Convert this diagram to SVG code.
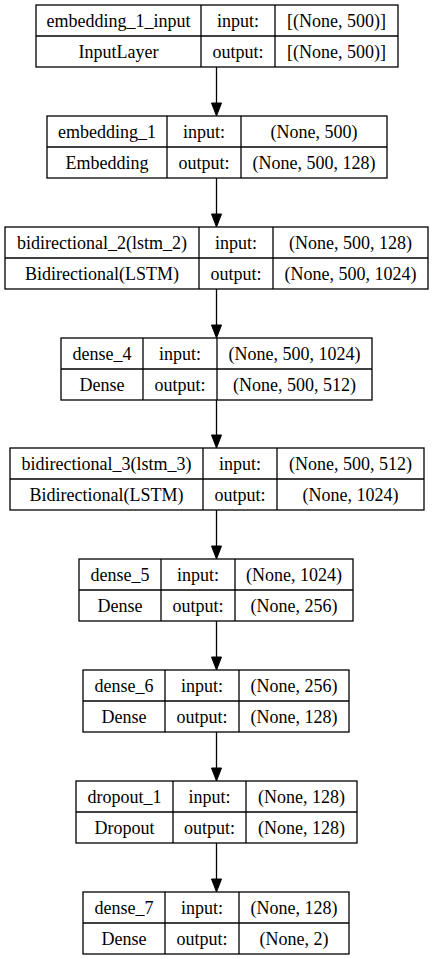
<svg xmlns="http://www.w3.org/2000/svg" width="433" height="959" viewBox="0 0 433 959">
  <style>
    .box { fill: #ffffff; stroke: #000000; stroke-width: 1.3; }
    .sep { stroke: #000000; stroke-width: 1.3; }
    .t { font-size: 18px; fill: #000000; text-anchor: middle; }
    .edge { stroke: #000000; stroke-width: 1.3; fill: none; }
    .head { fill: #000000; stroke: #000000; stroke-width: 1; }
  </style>
  <rect width="433" height="959" fill="#ffffff"/>

  <!-- connectors -->
  <g id="edges">
    <line class="edge" x1="216.5" y1="67" x2="216.5" y2="104"/>
    <polygon class="head" points="211.5,103 221.5,103 216.5,116"/>
    <line class="edge" x1="216.5" y1="178" x2="216.5" y2="215"/>
    <polygon class="head" points="211.5,214 221.5,214 216.5,227"/>
    <line class="edge" x1="216.5" y1="289" x2="216.5" y2="326"/>
    <polygon class="head" points="211.5,325 221.5,325 216.5,338"/>
    <line class="edge" x1="216.5" y1="400" x2="216.5" y2="437"/>
    <polygon class="head" points="211.5,435 221.5,435 216.5,448"/>
    <line class="edge" x1="216.5" y1="510" x2="216.5" y2="547"/>
    <polygon class="head" points="211.5,546 221.5,546 216.5,559"/>
    <line class="edge" x1="216.5" y1="621" x2="216.5" y2="658"/>
    <polygon class="head" points="211.5,657 221.5,657 216.5,670"/>
    <line class="edge" x1="216.5" y1="732" x2="216.5" y2="769"/>
    <polygon class="head" points="211.5,768 221.5,768 216.5,781"/>
    <line class="edge" x1="216.5" y1="843" x2="216.5" y2="880"/>
    <polygon class="head" points="211.5,879 221.5,879 216.5,892"/>
  </g>

  <g font-family="'Liberation Serif', 'Times New Roman', serif">
  <!-- embedding_1_input -->
  <g id="embedding_1_input">
    <rect class="box" x="36" y="5" width="362" height="62"/>
    <line class="sep" x1="36" y1="36" x2="398" y2="36"/>
    <line class="sep" x1="201" y1="5" x2="201" y2="67"/>
    <line class="sep" x1="275" y1="5" x2="275" y2="67"/>
    <text class="t" x="118.5" y="27">embedding_1_input</text>
    <text class="t" x="238" y="27">input:</text>
    <text class="t" x="336.5" y="27">[(None, 500)]</text>
    <text class="t" x="118.5" y="58">InputLayer</text>
    <text class="t" x="238" y="58">output:</text>
    <text class="t" x="336.5" y="58">[(None, 500)]</text>
  </g>

  <!-- embedding_1 -->
  <g id="embedding_1">
    <rect class="box" x="47" y="116" width="340" height="62"/>
    <line class="sep" x1="47" y1="147" x2="387" y2="147"/>
    <line class="sep" x1="167" y1="116" x2="167" y2="178"/>
    <line class="sep" x1="241" y1="116" x2="241" y2="178"/>
    <text class="t" x="107" y="138">embedding_1</text>
    <text class="t" x="204" y="138">input:</text>
    <text class="t" x="314" y="138">(None, 500)</text>
    <text class="t" x="107" y="169">Embedding</text>
    <text class="t" x="204" y="169">output:</text>
    <text class="t" x="314" y="169">(None, 500, 128)</text>
  </g>

  <!-- bidirectional_2 -->
  <g id="bidirectional_2">
    <rect class="box" x="5" y="227" width="423" height="62"/>
    <line class="sep" x1="5" y1="258" x2="428" y2="258"/>
    <line class="sep" x1="199" y1="227" x2="199" y2="289"/>
    <line class="sep" x1="273" y1="227" x2="273" y2="289"/>
    <text class="t" x="102" y="249">bidirectional_2(lstm_2)</text>
    <text class="t" x="236" y="249">input:</text>
    <text class="t" x="350.5" y="249">(None, 500, 128)</text>
    <text class="t" x="102" y="280">Bidirectional(LSTM)</text>
    <text class="t" x="236" y="280">output:</text>
    <text class="t" x="350.5" y="280">(None, 500, 1024)</text>
  </g>

  <!-- dense_4 -->
  <g id="dense_4">
    <rect class="box" x="61" y="338" width="311" height="62"/>
    <line class="sep" x1="61" y1="369" x2="372" y2="369"/>
    <line class="sep" x1="143" y1="338" x2="143" y2="400"/>
    <line class="sep" x1="217" y1="338" x2="217" y2="400"/>
    <text class="t" x="102" y="360">dense_4</text>
    <text class="t" x="180" y="360">input:</text>
    <text class="t" x="294.5" y="360">(None, 500, 1024)</text>
    <text class="t" x="102" y="391">Dense</text>
    <text class="t" x="180" y="391">output:</text>
    <text class="t" x="294.5" y="391">(None, 500, 512)</text>
  </g>

  <!-- bidirectional_3 -->
  <g id="bidirectional_3">
    <rect class="box" x="10" y="448" width="414" height="62"/>
    <line class="sep" x1="10" y1="479" x2="424" y2="479"/>
    <line class="sep" x1="203" y1="448" x2="203" y2="510"/>
    <line class="sep" x1="277" y1="448" x2="277" y2="510"/>
    <text class="t" x="106.5" y="470">bidirectional_3(lstm_3)</text>
    <text class="t" x="240" y="470">input:</text>
    <text class="t" x="350.5" y="470">(None, 500, 512)</text>
    <text class="t" x="106.5" y="501">Bidirectional(LSTM)</text>
    <text class="t" x="240" y="501">output:</text>
    <text class="t" x="350.5" y="501">(None, 1024)</text>
  </g>

  <!-- dense_5 -->
  <g id="dense_5">
    <rect class="box" x="79" y="559" width="274" height="62"/>
    <line class="sep" x1="79" y1="590" x2="353" y2="590"/>
    <line class="sep" x1="161" y1="559" x2="161" y2="621"/>
    <line class="sep" x1="235" y1="559" x2="235" y2="621"/>
    <text class="t" x="120" y="581">dense_5</text>
    <text class="t" x="198" y="581">input:</text>
    <text class="t" x="294" y="581">(None, 1024)</text>
    <text class="t" x="120" y="612">Dense</text>
    <text class="t" x="198" y="612">output:</text>
    <text class="t" x="294" y="612">(None, 256)</text>
  </g>

  <!-- dense_6 -->
  <g id="dense_6">
    <rect class="box" x="83" y="670" width="266" height="62"/>
    <line class="sep" x1="83" y1="701" x2="349" y2="701"/>
    <line class="sep" x1="165" y1="670" x2="165" y2="732"/>
    <line class="sep" x1="239" y1="670" x2="239" y2="732"/>
    <text class="t" x="124" y="692">dense_6</text>
    <text class="t" x="202" y="692">input:</text>
    <text class="t" x="294" y="692">(None, 256)</text>
    <text class="t" x="124" y="723">Dense</text>
    <text class="t" x="202" y="723">output:</text>
    <text class="t" x="294" y="723">(None, 128)</text>
  </g>

  <!-- dropout_1 -->
  <g id="dropout_1">
    <rect class="box" x="76" y="781" width="281" height="62"/>
    <line class="sep" x1="76" y1="812" x2="357" y2="812"/>
    <line class="sep" x1="173" y1="781" x2="173" y2="843"/>
    <line class="sep" x1="246" y1="781" x2="246" y2="843"/>
    <text class="t" x="124.5" y="803">dropout_1</text>
    <text class="t" x="209.5" y="803">input:</text>
    <text class="t" x="301.5" y="803">(None, 128)</text>
    <text class="t" x="124.5" y="834">Dropout</text>
    <text class="t" x="209.5" y="834">output:</text>
    <text class="t" x="301.5" y="834">(None, 128)</text>
  </g>

  <!-- dense_7 -->
  <g id="dense_7">
    <rect class="box" x="83" y="892" width="266" height="62"/>
    <line class="sep" x1="83" y1="923" x2="349" y2="923"/>
    <line class="sep" x1="165" y1="892" x2="165" y2="954"/>
    <line class="sep" x1="239" y1="892" x2="239" y2="954"/>
    <text class="t" x="124" y="914">dense_7</text>
    <text class="t" x="202" y="914">input:</text>
    <text class="t" x="294" y="914">(None, 128)</text>
    <text class="t" x="124" y="945">Dense</text>
    <text class="t" x="202" y="945">output:</text>
    <text class="t" x="294" y="945">(None, 2)</text>
  </g>
  </g>
</svg>
